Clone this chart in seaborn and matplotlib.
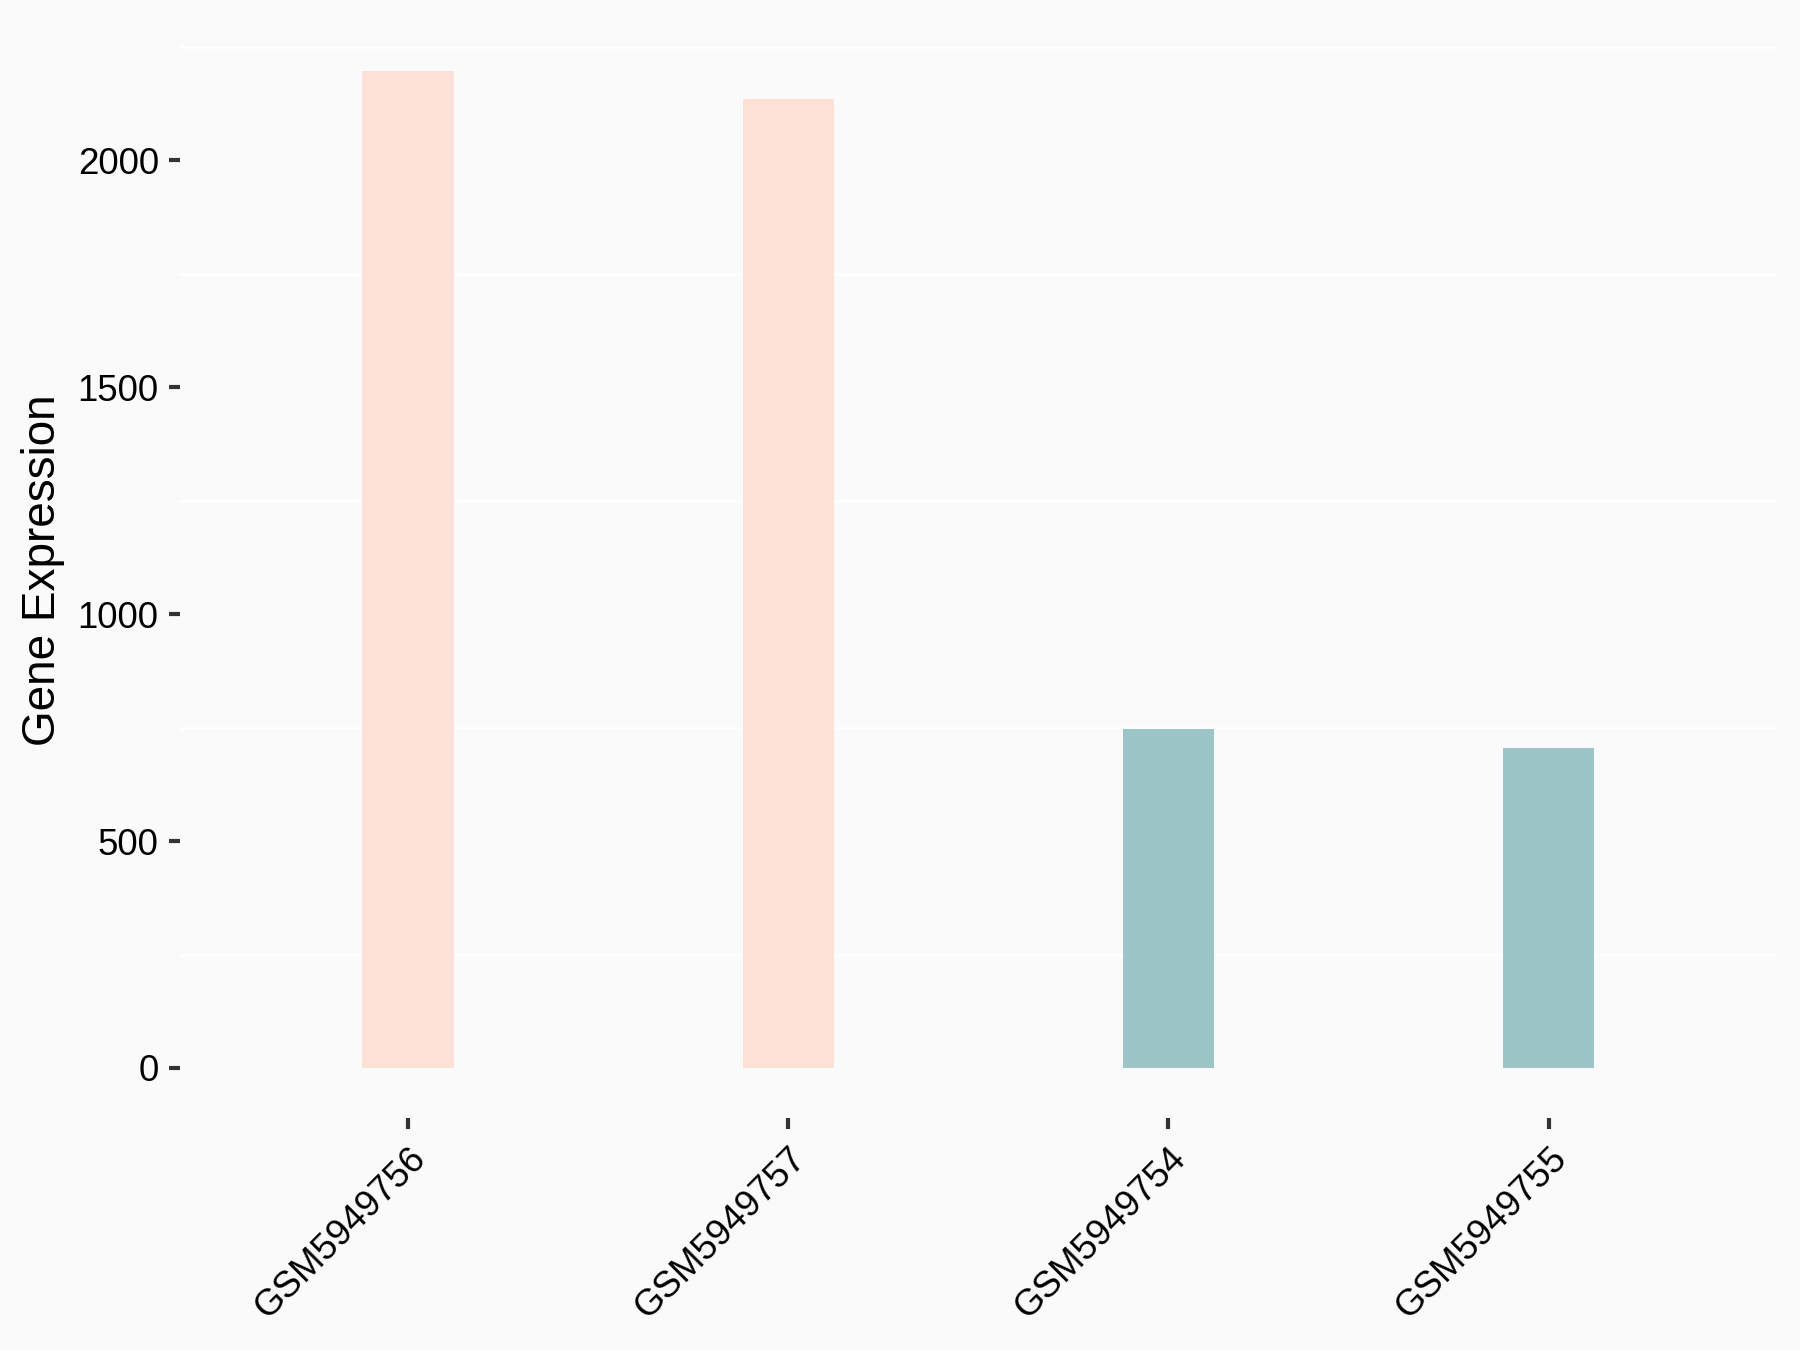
import matplotlib
matplotlib.use("Agg")
import matplotlib.pyplot as plt
import numpy as np
import pandas as pd
import seaborn as sns

# dados
samples = ["GSM5949756", "GSM5949757", "GSM5949754", "GSM5949755"]
expression = [2196, 2135, 747, 705]
groups = ["A", "A", "B", "B"]
group_colors = {"A": "#FEE1D6", "B": "#9DC4C7"}

df = pd.DataFrame({"sample": samples, "expr": expression, "group": groups})

sns.set_theme(style="white")
plt.rcParams["font.family"] = ["Liberation Sans", "DejaVu Sans"]

bg = "#FAFAFA"
fig = plt.figure(figsize=(6, 4.5), dpi=300, facecolor=bg)
ax = fig.add_axes([0.1, 0.172, 0.887, 0.812])
ax.set_facecolor(bg)

sns.barplot(data=df, x="sample", y="expr", hue="group", order=samples,
            palette=group_colors, dodge=False, width=0.24, legend=False,
            saturation=1, linewidth=0, edgecolor="none", ax=ax)

top = max(expression) * 1.05
ax.set_ylim(-max(expression) * 0.05, top)
ax.set_xlim(-0.6, len(samples) - 0.4)

# linhas de grade brancas (so as menores aparecem)
for v in np.arange(250, top, 500):
    ax.axhline(v, color="white", lw=0.6, zorder=0)

ax.set_yticks([0, 500, 1000, 1500, 2000])
ax.tick_params(axis="both", bottom=True, left=True, length=2.6, width=1.0,
               color="#333333", labelsize=8.8, labelcolor="black", pad=2.5)
ax.tick_params(axis="x", pad=3)
plt.setp(ax.get_xticklabels(), rotation=45, ha="right", rotation_mode="anchor")

for s in ax.spines.values():
    s.set_visible(False)
ax.grid(False)

ax.set_xlabel("")
ax.set_ylabel("Gene Expression", fontsize=11, color="black", labelpad=3)

fig.savefig("out.png", dpi=300, facecolor=bg)
